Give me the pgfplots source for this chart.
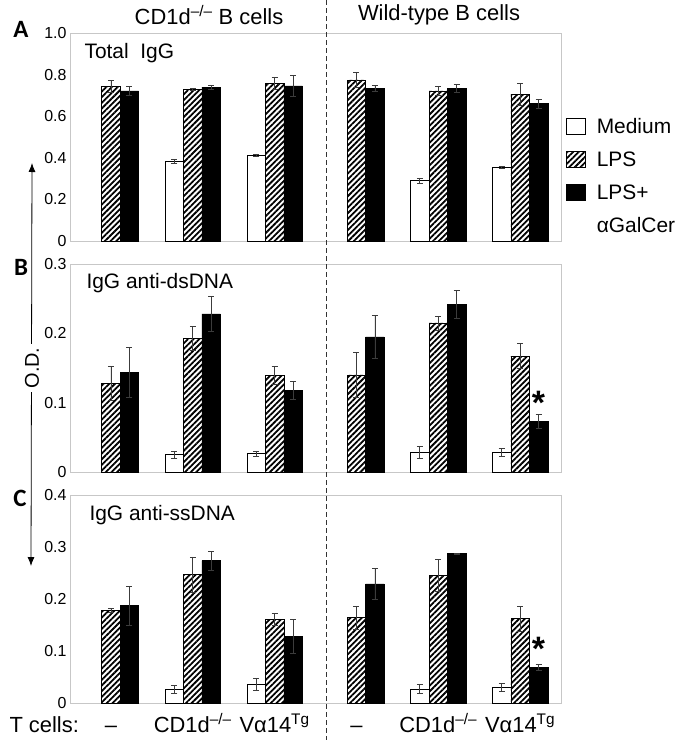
\documentclass[border=0pt]{standalone}
\usepackage{fontspec}
\setmainfont{Liberation Sans}
\newfontfamily\carlito{Carlito}
\usepackage{pgfplots}
\pgfplotsset{compat=1.18}
\usetikzlibrary{patterns.meta,arrows.meta}

\definecolor{errgray}{RGB}{60,60,60}

\pgfplotsset{
  odpanel/.style={
    scale only axis, width=491bp, height=208bp,
    xmin=-0.5, xmax=5.5, ymin=0,
    xtick=\empty,
    axis line style={black!22},
    major tick length=0pt,
    tick label style={font=\fontsize{16}{18}\selectfont},
    clip=false,
  },
  errs/.style={
    /pgfplots/error bars/y dir=both,
    /pgfplots/error bars/y explicit,
    /pgfplots/error bars/error bar style={errgray, line width=0.7bp},
    /pgfplots/error bars/error mark options={errgray, line width=0.7bp, mark size=3bp, rotate=90},
  },
  swatch/.style={legend image code/.code={\draw[##1] (0bp,-1bp) rectangle (19bp,15bp);}},
  medium/.style={ybar, bar width=0.226, bar shift=0, draw=black, line width=0.6bp, fill=white, errs, swatch},
  lps/.style={ybar, bar width=0.226, bar shift=0, draw=black, line width=0.6bp,
    pattern={Lines[angle=45,distance=4bp,line width=1.8bp]}, errs, swatch},
  gal/.style={ybar, bar width=0.226, bar shift=0, draw=black, line width=0.6bp, fill=black, errs, swatch},
}

\begin{document}
\begin{tikzpicture}
\useasboundingbox (0,0) rectangle (684bp,-742bp);

% A: total IgG
\begin{axis}[odpanel, at={(70bp,-241bp)}, anchor=south west,
  ymax=1.0, ytick={0,0.2,0.4,0.6,0.8,1.0}, yticklabels={0,0.2,0.4,0.6,0.8,1.0},
  legend style={draw=none, fill=none, at={(1.0102,0.593)}, anchor=north west,
    font=\fontsize{21}{24}\selectfont, row sep=16.3bp, inner sep=0pt,
    nodes={inner sep=0pt}, cells={anchor=base west},
    /tikz/every odd column/.append style={column sep=11bp}}]
\addplot[medium] coordinates {(0.774,0.383) +- (0,0.01) (1.774,0.412) +- (0,0.003)
  (3.774,0.291) +- (0,0.012) (4.774,0.354) +- (0,0.005)};
\addplot[lps] coordinates {(0,0.743) +- (0,0.03) (1,0.730) +- (0,0.005) (2,0.759) +- (0,0.03)
  (3,0.775) +- (0,0.035) (4,0.722) +- (0,0.02) (5,0.706) +- (0,0.053)};
\addplot[gal] coordinates {(0.226,0.722) +- (0,0.02) (1.226,0.740) +- (0,0.01) (2.226,0.746) +- (0,0.05)
  (3.226,0.735) +- (0,0.015) (4.226,0.735) +- (0,0.018) (5.226,0.660) +- (0,0.02)};
\addlegendentry{Medium}
\addlegendentry{LPS}
\addlegendentry{LPS+}
\addlegendimage{empty legend}
\addlegendentry{αGalCer}
\end{axis}

% B: IgG anti-dsDNA
\begin{axis}[odpanel, at={(70bp,-472bp)}, anchor=south west,
  ymax=0.3, ytick={0,0.1,0.2,0.3}, yticklabels={0,0.1,0.2,0.3}]
\addplot[medium] coordinates {(0.774,0.025) +- (0,0.005) (1.774,0.0265) +- (0,0.004)
  (3.774,0.028) +- (0,0.009) (4.774,0.028) +- (0,0.006)};
\addplot[lps] coordinates {(0,0.128) +- (0,0.025) (1,0.193) +- (0,0.017) (2,0.139) +- (0,0.013)
  (3,0.140) +- (0,0.033) (4,0.215) +- (0,0.01) (5,0.167) +- (0,0.018)};
\addplot[gal] coordinates {(0.226,0.144) +- (0,0.036) (1.226,0.228) +- (0,0.025) (2.226,0.118) +- (0,0.013)
  (3.226,0.195) +- (0,0.031) (4.226,0.242) +- (0,0.02) (5.226,0.073) +- (0,0.01)};
\node[font=\bfseries\fontsize{34}{34}\selectfont, anchor=base] at (axis cs:5.226,0.083) {*};
\end{axis}

% C: IgG anti-ssDNA
\begin{axis}[odpanel, at={(70bp,-703bp)}, anchor=south west,
  ymax=0.4, ytick={0,0.1,0.2,0.3,0.4}, yticklabels={0,0.1,0.2,0.3,0.4},
  xtick={0,1,2,3,4,5},
  xticklabels={–, CD1d\textsuperscript{–/–}, Vα14\textsuperscript{Tg}, –, CD1d\textsuperscript{–/–}, Vα14\textsuperscript{Tg}},
  xticklabel style={font=\fontsize{22}{26}\selectfont, anchor=base, yshift=-29bp}]
\addplot[medium] coordinates {(0.774,0.026) +- (0,0.007) (1.774,0.036) +- (0,0.012)
  (3.774,0.027) +- (0,0.008) (4.774,0.030) +- (0,0.007)};
\addplot[lps] coordinates {(0,0.178) +- (0,0.004) (1,0.247) +- (0,0.034) (2,0.161) +- (0,0.012)
  (3,0.164) +- (0,0.022) (4,0.245) +- (0,0.031) (5,0.162) +- (0,0.024)};
\addplot[gal] coordinates {(0.226,0.187) +- (0,0.038) (1.226,0.274) +- (0,0.018) (2.226,0.128) +- (0,0.032)
  (3.226,0.229) +- (0,0.03) (4.226,0.287) +- (0,0.001) (5.226,0.0687) +- (0,0.006)};
\node[font=\bfseries\fontsize{34}{34}\selectfont, anchor=base] at (axis cs:5.226,0.082) {*};
\end{axis}

% panel titles
\node[anchor=base west, font=\fontsize{21}{24}\selectfont] at (81bp,-58bp) {Total\ \ IgG};
\node[anchor=base west, font=\fontsize{21}{24}\selectfont] at (83bp,-288bp) {IgG anti-dsDNA};
\node[anchor=base west, font=\fontsize{21}{24}\selectfont] at (86bp,-520bp) {IgG anti-ssDNA};

% column headers
\node[font=\fontsize{22}{26}\selectfont] at (209bp,-15bp) {CD1d\textsuperscript{–/–} B cells};
\node[font=\fontsize{22}{26}\selectfont] at (439bp,-15bp) {Wild-type B cells};

% panel letters
\node[font=\carlito\bfseries\fontsize{25}{28}\selectfont] at (21bp,-29bp) {A};
\node[font=\carlito\bfseries\fontsize{25}{28}\selectfont] at (21bp,-267bp) {B};
\node[font=\carlito\bfseries\fontsize{25}{28}\selectfont] at (20bp,-498bp) {C};

% O.D. axis arrow
\draw[line width=0.8bp, {Latex[length=9bp,width=7bp]}-{Latex[length=9bp,width=7bp]}] (32bp,-163bp) -- (31bp,-566bp);
\node[rotate=90, fill=white, inner sep=4bp, font=\fontsize{20}{24}\selectfont] at (32bp,-368bp) {O.D.};

% T cells row label
\node[anchor=base west, font=\fontsize{22}{26}\selectfont] at (6bp,-732bp) {T cells:};

% column divider
\draw[black!80, line width=0.7bp, dash pattern=on 5bp off 3bp] (326bp,0bp) -- (326bp,-740bp);
\end{tikzpicture}
\end{document}
